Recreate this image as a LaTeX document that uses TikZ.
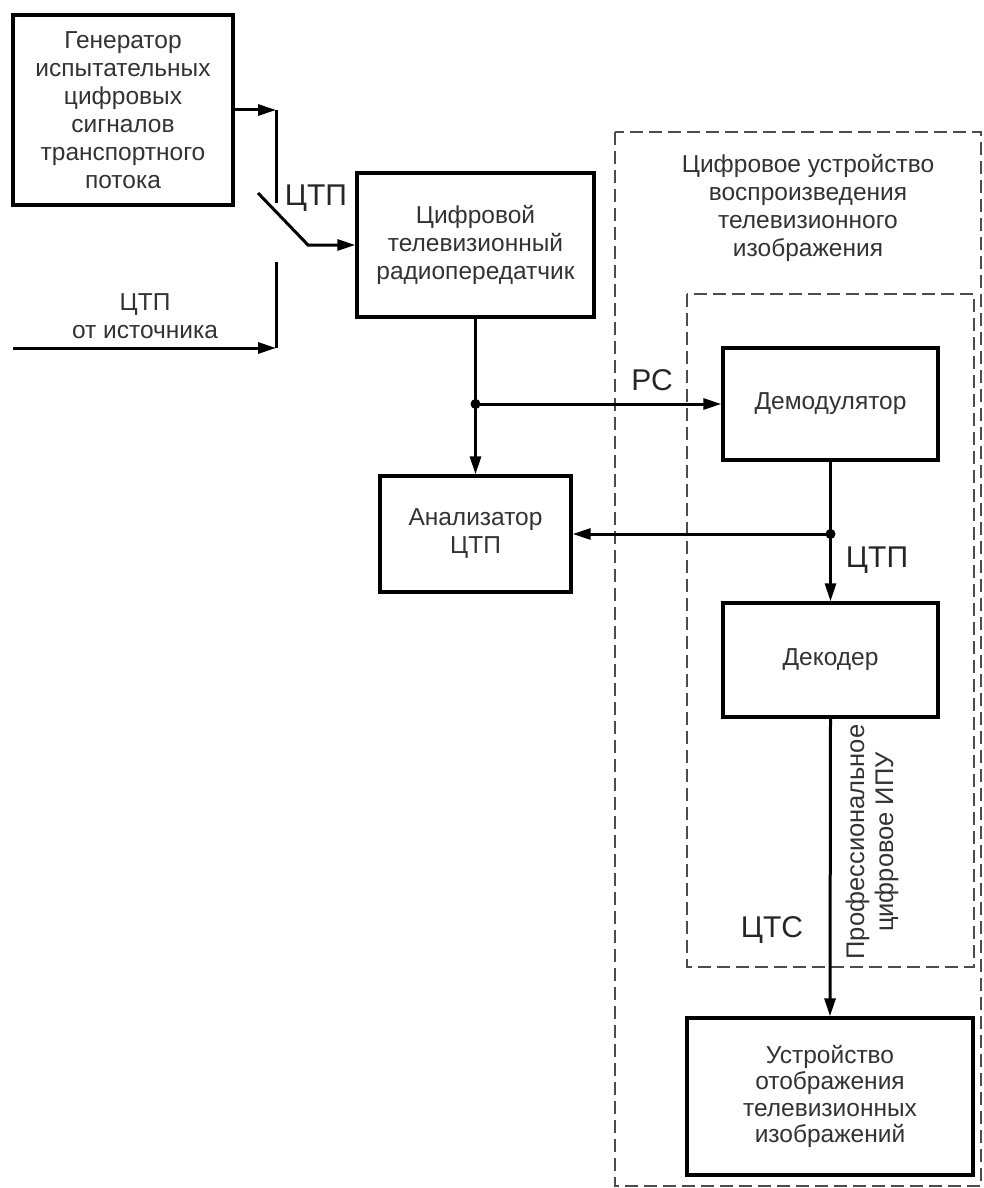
\documentclass[tikz,border=0pt]{standalone}
\usepackage{fontspec}
\setmainfont{Liberation Sans}
\usetikzlibrary{arrows.meta}
\begin{document}
\begin{tikzpicture}[x=1pt,y=-1pt,
  box/.style={draw=black,line width=3.4pt,rectangle,align=center,inner sep=0pt,
    font=\fontsize{24.5}{28}\selectfont,text=black!80},
  conn/.style={draw=black,line width=3pt},
  arr/.style={conn,-{Triangle[length=18pt,width=11pt]}},
  frame/.style={draw=black!70,line width=2pt,dash pattern=on 13pt off 6pt},
  lbl/.style={font=\fontsize{30}{34}\selectfont,text=black!85,inner sep=0pt},
  txt/.style={font=\fontsize{24.5}{28}\selectfont,text=black!80,align=center,inner sep=0pt},
  dot/.style={circle,fill=black,inner sep=0pt,minimum size=10pt}
]
\useasboundingbox (0,0) rectangle (984,1188);
\fill[white] (0,0) rectangle (984,1188);

% dashed frames
\draw[frame] (615,132) rectangle (981,1186);
\draw[frame] (687,294) rectangle (974,967);

% blocks
\node[box,minimum width=220pt,minimum height=190pt] (gen) at (123,110)
  {Генератор\\испытательных\\цифровых\\сигналов\\транспортного\\потока};
\node[box,minimum width=237pt,minimum height=144pt] (tx) at (475.5,245)
  {Цифровой\\телевизионный\\радиопередатчик};
\node[box,minimum width=191pt,minimum height=116pt] (an) at (475.5,534)
  {Анализатор\\ЦТП};
\node[box,minimum width=215pt,minimum height=112pt] (dem) at (830.5,404)
  {Демодулятор};
\node[box,minimum width=215pt,minimum height=114pt] (dec) at (830.5,660)
  {Декодер};
\node[box,minimum width=286pt,minimum height=157pt,
  font=\fontsize{24.5}{26.5}\selectfont] (disp) at (830,1096.5)
  {Устройство\\отображения\\телевизионных\\изображений};

% header text
\node[txt] (hdr) at (808,208)
  {Цифровое устройство\\воспроизведения\\телевизионного\\изображения};

% switch area
\coordinate (s1) at (276,110);
\coordinate (s1b) at (276,203);
\coordinate (src) at (13,348);
\coordinate (s2) at (276,348);
\coordinate (s2t) at (276,262);
\coordinate (sw0) at (258,193);
\coordinate (sw1) at (308,245);

\draw[arr] (gen.east) -- (s1);
\draw[conn] (s1) -- (s1b);
\draw[arr] (src) -- (s2);
\draw[conn] (s2) -- (s2t);
\draw[arr] (sw0) -- (sw1) -- (tx.west);

\node[lbl] (lctp1) at (316,198) {ЦТП};
\node[txt] (lsrc) at (145,316) {ЦТП\\от источника};

% main signal path
\coordinate (j1) at (475.5,404);
\coordinate (j2) at (830.5,534);
\draw[arr] (tx.south) -- (an.north);
\draw[arr] (j1) -- (dem.west);
\node[dot] (d1) at (j1) {};
\draw[arr] (dem.south) -- (dec.north);
\draw[arr] (j2) -- (an.east);
\node[dot] (d2) at (j2) {};
\draw[arr] (dec.south) -- (disp.north);

\node[lbl] (lrc) at (652,380) {РС};
\node[lbl] (lctp2) at (877,560) {ЦТП};
\node[lbl] (lcts) at (772,930) {ЦТС};
\node[txt,rotate=90,font=\fontsize{25.5}{29}\selectfont] (lipu) at (872,842)
  {Профессиональное\\цифровое ИПУ};
\end{tikzpicture}
\end{document}
